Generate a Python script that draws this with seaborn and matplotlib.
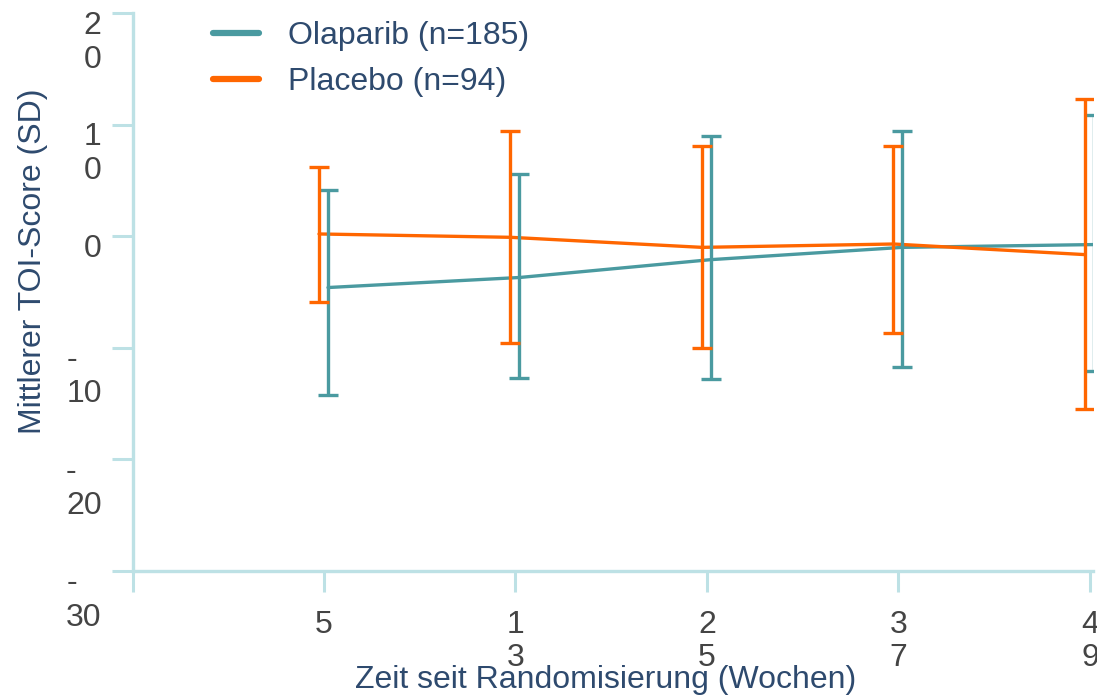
import matplotlib
matplotlib.use("Agg")
import matplotlib.pyplot as plt
import matplotlib.transforms as mtransforms
from matplotlib.lines import Line2D
import seaborn as sns
import pandas as pd
import numpy as np

# Visit weeks and their (wrapped) tick labels
weeks = ["5", "13", "25", "37", "49"]
week_tick_labels = ["5", "1\n3", "2\n5", "3\n7", "4\n9"]

# Mean TOI change with SD range per arm
olaparib_mean = [-4.6, -3.7, -2.1, -1.0, -0.75]
olaparib_lower = [-14.2, -12.7, -12.8, -11.7, -12.1]
olaparib_upper = [4.1, 5.6, 9.0, 9.4, 10.9]

placebo_mean = [0.2, -0.1, -1.0, -0.7, -1.65]
placebo_lower = [-5.9, -9.6, -10.0, -8.7, -15.5]
placebo_upper = [6.2, 9.4, 8.1, 8.1, 12.25]

arm_names = ["Olaparib (n=185)", "Placebo (n=94)"]

y_ticks = [20, 10, 0, -10, -20, -30]
y_tick_labels = ["2\n0", "1\n0", "0", "-\n10", "-\n20", "-\n30"]

TEAL = "#4a9aa0"
ORANGE = "#ff6600"
AXIS_COLOR = "#bde1e5"
TICK_TEXT = "#444444"
LABEL_TEXT = "#2e4a6e"
FS = 23

sns.set_style("white")
plt.rcParams["font.family"] = ["Liberation Sans", "DejaVu Sans"]

W, H = 1097, 698
fig = plt.figure(figsize=(W / 100, H / 100), dpi=100)
left_px, right_px, top_px, bottom_px = 132.5, 1093, 13, 571
ax = fig.add_axes([left_px / W, 1 - bottom_px / H,
                   (right_px - left_px) / W, (bottom_px - top_px) / H])

pos = np.arange(1, len(weeks) + 1)
arms = [
    (arm_names[0], olaparib_mean, olaparib_lower, olaparib_upper, TEAL, 0.021),
    (arm_names[1], placebo_mean, placebo_lower, placebo_upper, ORANGE, -0.026),
]

rows = []
for name, mean, lo, hi, color, dx in arms:
    for p, m, l, h in zip(pos, mean, lo, hi):
        rows.append({"arm": name, "x": p + dx, "mean": m, "lower": l, "upper": h})
df = pd.DataFrame(rows)

palette = {arm_names[0]: TEAL, arm_names[1]: ORANGE}
sns.lineplot(data=df, x="x", y="mean", hue="arm", palette=palette,
             linewidth=2.4, legend=False, ax=ax, sort=False)

for name, mean, lo, hi, color, dx in arms:
    sub = df[df["arm"] == name]
    yerr = [sub["mean"] - sub["lower"], sub["upper"] - sub["mean"]]
    ax.errorbar(sub["x"], sub["mean"], yerr=yerr, fmt="none", ecolor=color,
                elinewidth=2.4, capsize=7.4, capthick=2.4, zorder=3)

ax.set_xlim(0, 5.016)
ax.set_ylim(-30, 20)

ax.set_xticks(np.arange(0, len(weeks) + 1))
ax.set_xticklabels([""] + week_tick_labels, fontsize=FS, color=TICK_TEXT,
                   linespacing=1.12)
ax.set_yticks(y_ticks)
ax.set_yticklabels(y_tick_labels, fontsize=FS, color=TICK_TEXT,
                   linespacing=1.18, va="top", multialignment="left")

ax.tick_params(axis="both", which="major", length=15, width=2.2,
               color=AXIS_COLOR, left=True, bottom=True)
ax.tick_params(axis="x", pad=13)
ax.tick_params(axis="y", pad=7.2)

for side in ["top", "right"]:
    ax.spines[side].set_visible(False)
for side in ["left", "bottom"]:
    ax.spines[side].set_color(AXIS_COLOR)
    ax.spines[side].set_linewidth(2.4)

ax.set_xlabel("Zeit seit Randomisierung (Wochen)", fontsize=FS, color=LABEL_TEXT)
ax.set_ylabel("Mittlerer TOI-Score (SD)", fontsize=FS, color=LABEL_TEXT)
ax.xaxis.set_label_coords((606 - left_px) / (right_px - left_px),
                          -(665 - bottom_px) / (bottom_px - top_px))
ax.yaxis.set_label_coords(-(left_px - 48) / (right_px - left_px),
                          (bottom_px - 261) / (bottom_px - top_px))

handles = [Line2D([], [], color=TEAL, linewidth=4.5),
           Line2D([], [], color=ORANGE, linewidth=4.5)]
leg = ax.legend(handles, arm_names, loc="upper left",
                bbox_to_anchor=(213 / W, 1 - 21 / H),
                bbox_transform=fig.transFigure, frameon=False, fontsize=FS,
                handlelength=1.44, handletextpad=0.9, labelspacing=0.5,
                borderpad=0, borderaxespad=0)
for t in leg.get_texts():
    t.set_color(LABEL_TEXT)

# Lift the y tick labels so their first line sits level with the tick
fig.canvas.draw()
lift = mtransforms.ScaledTranslation(0, 2.5 / 100, fig.dpi_scale_trans)
for lab in ax.get_yticklabels():
    lab.set_transform(lab.get_transform() + lift)

fig.savefig("out.png", dpi=100)
